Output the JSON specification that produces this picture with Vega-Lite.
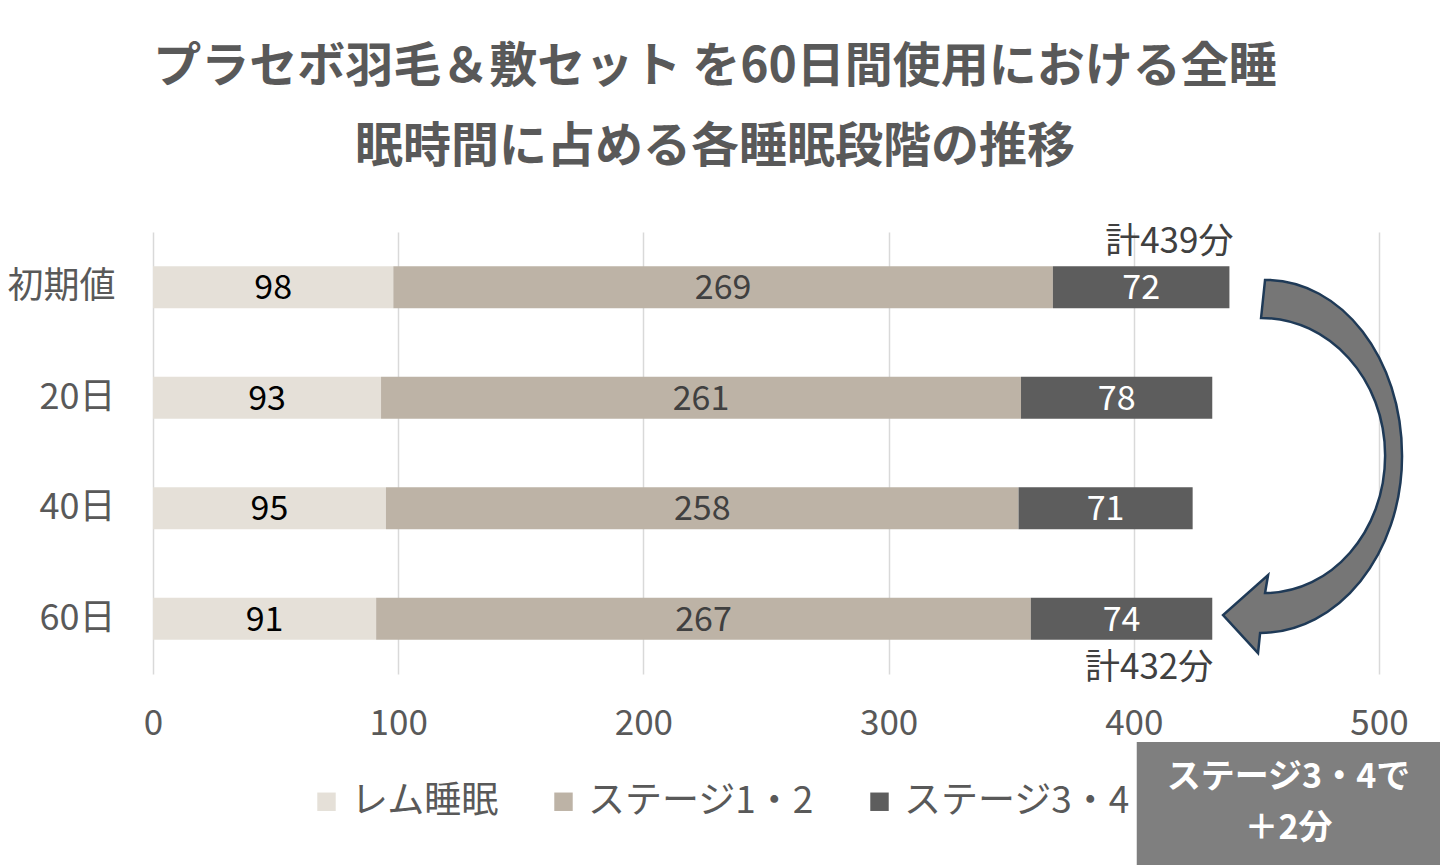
{
  "$schema": "https://vega.github.io/schema/vega-lite/v6.json",
  "autosize": {"type": "none"},
  "width": 1226,
  "height": 442,
  "padding": {"left": 153, "top": 232, "right": 61, "bottom": 191},
  "background": "white",
  "config": {
    "font": "Noto Sans CJK JP",
    "view": {"stroke": null},
    "axis": {"labelFont": "Noto Sans CJK JP", "labelColor": "#595959"}
  },
  "title": {
    "text": ["プラセボ羽毛＆敷セット を60日間使用における全睡", "眠時間に占める各睡眠段階の推移"],
    "fontSize": 48,
    "fontWeight": "bold",
    "color": "#595959",
    "lineHeight": 80,
    "anchor": "middle",
    "frame": "group",
    "dx": -51,
    "offset": 53
  },
  "layer": [
    {
      "layer": [
        {
          "data": {"name": "sleep", "values": [
            {"period": "初期値", "stage": "レム睡眠", "order": 1, "minutes": 98},
            {"period": "初期値", "stage": "ステージ1・2", "order": 2, "minutes": 269},
            {"period": "初期値", "stage": "ステージ3・4", "order": 3, "minutes": 72},
            {"period": "20日", "stage": "レム睡眠", "order": 1, "minutes": 93},
            {"period": "20日", "stage": "ステージ1・2", "order": 2, "minutes": 261},
            {"period": "20日", "stage": "ステージ3・4", "order": 3, "minutes": 78},
            {"period": "40日", "stage": "レム睡眠", "order": 1, "minutes": 95},
            {"period": "40日", "stage": "ステージ1・2", "order": 2, "minutes": 258},
            {"period": "40日", "stage": "ステージ3・4", "order": 3, "minutes": 71},
            {"period": "60日", "stage": "レム睡眠", "order": 1, "minutes": 91},
            {"period": "60日", "stage": "ステージ1・2", "order": 2, "minutes": 267},
            {"period": "60日", "stage": "ステージ3・4", "order": 3, "minutes": 74}
          ]},
          "mark": {"type": "bar"},
          "encoding": {
            "y": {"field": "period", "type": "nominal",
              "scale": {"domain": ["初期値", "20日", "40日", "60日"], "paddingInner": 0.62, "paddingOuter": 0.31},
              "axis": {"title": null, "domain": false, "ticks": false, "labelFontSize": 36, "labelPadding": 38, "labelColor": "#595959"}},
            "x": {"field": "minutes", "type": "quantitative", "stack": "zero",
              "scale": {"domain": [0, 500], "nice": false},
              "axis": {"title": null, "domain": false, "ticks": false, "values": [0, 100, 200, 300, 400, 500],
                "labelFlush": false, "labelFontSize": 35, "labelPadding": 32, "labelColor": "#595959",
                "gridColor": "#d9d9d9", "gridWidth": 1.5}},
            "color": {"field": "stage", "type": "nominal",
              "scale": {"domain": ["レム睡眠", "ステージ1・2", "ステージ3・4"], "range": ["#e5e0d8", "#bdb3a6", "#5d5d5d"]},
              "legend": {"title": null, "orient": "none", "direction": "horizontal", "legendX": 155, "legendY": 551,
                "symbolType": "square", "symbolSize": 340, "symbolStrokeWidth": 0, "labelLimit": 400,
                "labelFontSize": 37, "labelColor": "#595959", "labelOffset": 6, "columnPadding": 46}},
            "order": {"field": "order"}
          }
        },
        {
          "data": {"name": "sleep"},
          "transform": [
            {"stack": "minutes", "groupby": ["period"], "sort": [{"field": "order"}], "as": ["x0", "x1"]},
            {"calculate": "(datum.x0 + datum.x1) / 2", "as": "mid"}
          ],
          "mark": {"type": "text", "fontSize": 34, "baseline": "middle", "align": "center", "dy": 2},
          "encoding": {
            "y": {"field": "period", "type": "nominal"},
            "x": {"field": "mid", "type": "quantitative"},
            "text": {"field": "minutes"},
            "color": {
              "condition": [
                {"test": "datum.stage === 'ステージ3・4'", "value": "#ffffff"},
                {"test": "datum.stage === 'ステージ1・2'", "value": "#404040"}
              ],
              "value": "#000000"
            }
          }
        },
        {
          "data": {"values": [{"period": "初期値", "total": 439, "label": "計439分"}]},
          "mark": {"type": "text", "fontSize": 35, "baseline": "middle", "align": "right", "dy": -45, "dx": 4, "color": "#404040"},
          "encoding": {
            "y": {"field": "period", "type": "nominal"},
            "x": {"field": "total", "type": "quantitative"},
            "text": {"field": "label"}
          }
        },
        {
          "data": {"values": [{"period": "60日", "total": 432, "label": "計432分"}]},
          "mark": {"type": "text", "fontSize": 35, "baseline": "middle", "align": "right", "dy": 49, "dx": 1, "color": "#404040"},
          "encoding": {
            "y": {"field": "period", "type": "nominal"},
            "x": {"field": "total", "type": "quantitative"},
            "text": {"field": "label"}
          }
        }
      ]
    },
    {
      "data": {"values": [{"note": "ステージ3・4で＋2分"}]},
      "layer": [
        {
          "mark": {"type": "point", "filled": true, "fill": "#767676", "stroke": "#1f3a57", "strokeWidth": 2.5, "opacity": 1,
            "shape": "M-0.25,-0.982C0.157,-0.982,0.471,-0.567,0.471,-0.055C0.471,0.46,0.136,0.876,-0.276,0.876L-0.287,0.982L-0.471,0.782L-0.234,0.571L-0.25,0.666C0.099,0.666,0.382,0.342,0.382,-0.058C0.382,-0.457,0.09,-0.782,-0.271,-0.782Z",
            "size": 144400},
          "encoding": {
            "x": {"datum": 472.9, "type": "quantitative"},
            "y": {"datum": 2.122, "type": "quantitative", "scale": {"domain": [0, 4], "reverse": true, "nice": false, "zero": false}, "axis": null}
          }
        },
        {
          "mark": {"type": "rect", "fill": "#7f7f7f", "clip": false},
          "encoding": {
            "x": {"datum": 401.2, "type": "quantitative"},
            "x2": {"datum": 526},
            "y": {"datum": 4.615, "type": "quantitative"},
            "y2": {"datum": 5.75}
          }
        },
        {
          "mark": {"type": "text", "text": ["ステージ3・4で", "＋2分"], "fontSize": 34, "fontWeight": "bold", "color": "#ffffff", "lineHeight": 51, "baseline": "middle", "align": "center"},
          "encoding": {
            "x": {"datum": 463.1, "type": "quantitative"},
            "y": {"datum": 4.94, "type": "quantitative"}
          }
        }
      ]
    }
  ],
  "resolve": {"scale": {"y": "independent"}}
}
